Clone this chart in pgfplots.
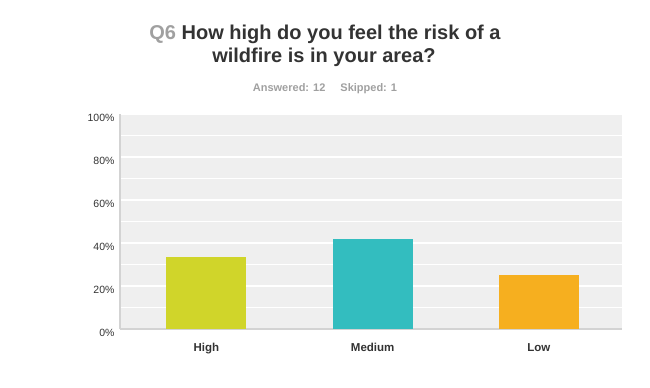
\documentclass[border=0pt]{standalone}
\usepackage{fontspec}
\setmainfont{Liberation Sans}
\usepackage{pgfplots}
\pgfplotsset{compat=1.18}
\definecolor{highc}{HTML}{D0D52A}
\definecolor{medc}{HTML}{33BDBF}
\definecolor{lowc}{HTML}{F6AF1F}
\definecolor{bgc}{HTML}{EFEFEF}
\definecolor{axc}{HTML}{D3D3D3}
\definecolor{darkt}{HTML}{333333}
\definecolor{grayt}{HTML}{A0A0A0}
\begin{document}
\begin{tikzpicture}[x=1bp,y=1bp]
\path[use as bounding box] (0,0) rectangle (650,387);
\node[anchor=base, font=\fontsize{20bp}{24bp}\selectfont\bfseries, text=darkt, inner sep=0] at (325,347.5) {\textcolor{grayt}{Q6} How high do you feel the risk of a};
\node[anchor=base, font=\fontsize{20bp}{24bp}\selectfont\bfseries, text=darkt, inner sep=0] at (324,324.5) {wildfire is in your area?};
\node[anchor=base, font=\fontsize{11bp}{13bp}\selectfont\bfseries, text=grayt, inner sep=0] at (325,296) {Answered: 12\hspace{15bp}Skipped: 1};
\begin{axis}[
  at={(120bp,58bp)}, anchor=south west,
  scale only axis, width=502bp, height=215bp,
  xmin=-0.52, xmax=2.5, ymin=0, ymax=100,
  ybar, bar width=80bp,
  xtick={0,1,2}, xticklabels={High,Medium,Low},
  ytick={0,10,...,100},
  yticklabels={0\%,,20\%,,40\%,,60\%,,80\%,,100\%},
  ymajorgrids, grid style={white, line width=1.2bp},
  axis background/.style={fill=bgc},
  axis x line*=bottom, axis y line*=left,
  axis line style={-, draw=axc, line width=1.5bp},
  major tick length=0pt,
  /pgf/number format/assume math mode=true,
  yticklabel style={font=\fontsize{10.5bp}{12bp}\selectfont, text=darkt, yshift=-4bp, xshift=-2bp},
  xticklabel style={font=\fontsize{11.5bp}{13bp}\selectfont\bfseries, text=darkt, yshift=-11bp},
  clip=false,
]
\addplot[fill=highc, draw=none, bar shift=0pt] coordinates {(0,33.33)};
\addplot[fill=medc, draw=none, bar shift=0pt] coordinates {(1,41.67)};
\addplot[fill=lowc, draw=none, bar shift=0pt] coordinates {(2,25)};
\end{axis}
\end{tikzpicture}
\end{document}
